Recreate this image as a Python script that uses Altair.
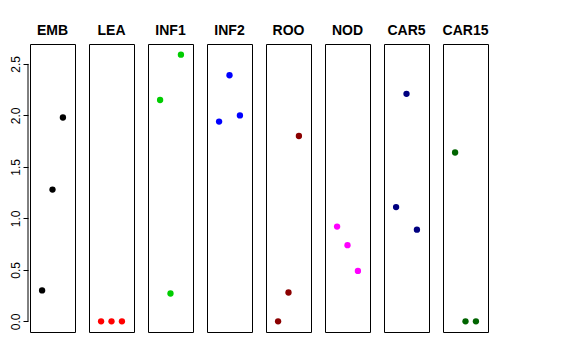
import altair as alt
import pandas as pd

panels = ["EMB", "LEA", "INF1", "INF2", "ROO", "NOD", "CAR5", "CAR15"]
colors = ["#000000", "#FF0000", "#00CD00", "#0000FF", "#8B0000", "#FF00FF", "#000080", "#006400"]
positions = [1, 2, 3]
emb = [0.30, 1.28, 1.98]
lea = [0.0, 0.0, 0.0]
inf1 = [2.15, 0.27, 2.59]
inf2 = [1.94, 2.39, 2.00]
roo = [0.0, 0.28, 1.80]
nod = [0.92, 0.74, 0.49]
car5 = [1.11, 2.21, 0.89]
car15 = [1.64, 0.0, 0.0]
series = [emb, lea, inf1, inf2, roo, nod, car5, car15]
ticks = [0, 0.5, 1.0, 1.5, 2.0, 2.5]

ydom = [-0.1036, 2.6936]
xdom = [-0.16, 4.16]
FONT = "Liberation Sans"

charts = []
for i, (name, vals, col) in enumerate(zip(panels, series, colors)):
    df = pd.DataFrame({"pos": positions, "value": vals})
    if i == 0:
        yaxis = alt.Axis(values=ticks, format=".1f", labelAngle=270, grid=False,
                         domain=False, tickSize=5, tickColor="black",
                         labelColor="black", labelFont=FONT, labelFontSize=12,
                         title=None, offset=2, labelPadding=1)
    else:
        yaxis = None
    pts = alt.Chart(df).mark_circle(size=40, opacity=1, color=col).encode(
        x=alt.X("pos:Q", scale=alt.Scale(domain=xdom, nice=False, zero=False), axis=None),
        y=alt.Y("value:Q", scale=alt.Scale(domain=ydom, nice=False, zero=False), axis=yaxis),
    )
    if i == 0:
        adf = pd.DataFrame({"lo": [ticks[0]], "hi": [ticks[-1]]})
        rule = alt.Chart(adf).mark_rule(color="black", strokeWidth=1).encode(
            x=alt.value(-2),
            y=alt.Y("lo:Q", scale=alt.Scale(domain=ydom, nice=False, zero=False), axis=yaxis),
            y2="hi:Q",
        )
        layer = alt.layer(rule, pts)
    else:
        layer = pts
    layer = layer.properties(
        width=45, height=288,
        title=alt.TitleParams(name, fontSize=14, fontWeight="bold", font=FONT,
                              offset=6, anchor="middle", frame="group", color="black"),
    )
    charts.append(layer)

chart = alt.hconcat(*charts, spacing=12).properties(
    padding={"left": 0, "top": 15, "right": 5, "bottom": 5},
    background="white",
).configure_view(stroke="black", strokeWidth=1)

chart.save("out.html", embed_options={"renderer": "svg", "actions": False})
